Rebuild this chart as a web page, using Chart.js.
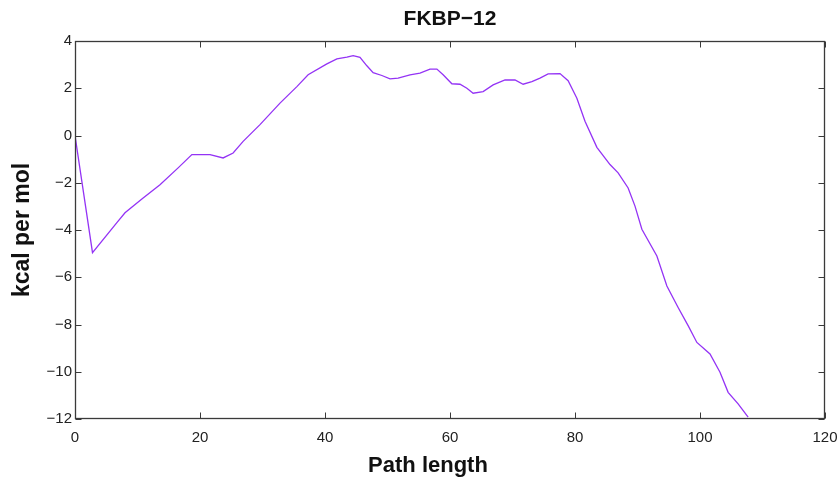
<!DOCTYPE html>
<html>
<head>
<meta charset="utf-8">
<script src="https://cdn.jsdelivr.net/npm/chart.js@4/dist/chart.umd.min.js"></script>
<style>
  html, body { margin: 0; padding: 0; background: #fff; }
  #wrap { width: 839px; height: 479px; }
</style>
</head>
<body>
<div id="wrap"><canvas id="c" width="839" height="479"></canvas></div>
<script>
const chartTitle = "FKBP\u221212";
const xAxisTitle = "Path length";
const yAxisTitle = "kcal per mol";
const xTicks = [0, 20, 40, 60, 80, 100, 120];
const yTicks = [-12, -10, -8, -6, -4, -2, 0, 2, 4];

const pathLength = [0, 2.8, 6.7, 8, 10.8, 13.6, 16.5, 18.7, 20, 21.6, 23.7, 25.3, 26.9, 29.6, 32.8,
  35.5, 37.3, 40.3, 41.9, 43.5, 44.5, 45.6, 46.7, 47.7, 49.1, 50.4, 51.7, 53.6, 55.2, 56.8, 57.9,
  58.9, 60.3, 61.6, 62.7, 63.7, 65.3, 66.9, 68.8, 70.4, 71.7, 73.1, 74.4, 75.7, 77.6, 78.9, 80.3,
  81.6, 83.5, 85.6, 86.9, 88.5, 89.6, 90.7, 93.1, 94.7, 96.5, 98.1, 99.5, 101.6, 103.2, 104.5,
  106.1, 107.7];
const energy = [0, -4.96, -3.69, -3.27, -2.67, -2.08, -1.37, -0.81, -0.81, -0.81, -0.95, -0.74, -0.25,
  0.46, 1.37, 2.07, 2.57, 3.03, 3.24, 3.32, 3.38, 3.31, 2.95, 2.66, 2.54, 2.40, 2.43, 2.57, 2.64,
  2.81, 2.81, 2.57, 2.19, 2.17, 2.0, 1.79, 1.86, 2.14, 2.35, 2.35, 2.17, 2.28, 2.43, 2.61, 2.62,
  2.32, 1.58, 0.6, -0.5, -1.23, -1.58, -2.22, -2.99, -3.97, -5.10, -6.37, -7.28, -8.05, -8.76,
  -9.25, -10.02, -10.87, -11.36, -11.92];

const points = pathLength.map((x, i) => ({ x: x, y: energy[i] }));

const framePlugin = {
  id: 'frame',
  afterDatasetsDraw(chart) {
    const ctx = chart.ctx;
    const a = chart.chartArea;
    const xs = chart.scales.x, ys = chart.scales.y;
    const L = Math.round(a.left) + 0.5, R = Math.round(a.right) - 0.5;
    const T = Math.round(a.top) + 0.5, B = Math.round(a.bottom) - 0.5;
    ctx.save();
    ctx.strokeStyle = '#3a3a3a';
    ctx.lineWidth = 1;
    ctx.beginPath();
    const tl = 6;
    xs.ticks.forEach((t, i) => {
      const px = Math.round(xs.getPixelForTick(i)) + 0.5;
      ctx.moveTo(px, B); ctx.lineTo(px, B - tl);
      ctx.moveTo(px, T); ctx.lineTo(px, T + tl);
    });
    ys.ticks.forEach((t, i) => {
      const py = Math.round(ys.getPixelForTick(i)) + 0.5;
      ctx.moveTo(L, py); ctx.lineTo(L + tl, py);
      ctx.moveTo(R, py); ctx.lineTo(R - tl, py);
    });
    ctx.stroke();
    ctx.lineWidth = 1.3;
    ctx.strokeRect(L, T, R - L, B - T);
    // x-axis title (placed slightly left of the plot centre, as in the original)
    ctx.fillStyle = '#111';
    ctx.font = 'bold 22px "Liberation Sans"';
    ctx.textAlign = 'center';
    ctx.textBaseline = 'middle';
    ctx.fillText(xAxisTitle, (a.left + a.right) / 2 - 22, 466);
    ctx.restore();
  }
};

new Chart(document.getElementById('c'), {
  type: 'line',
  data: {
    datasets: [{
      data: points,
      borderColor: '#9433f5',
      borderWidth: 1.3,
      pointRadius: 0,
      tension: 0,
      fill: false
    }]
  },
  options: {
    responsive: false,
    animation: false,
    layout: { padding: { left: 0, right: 14, top: 0, bottom: 0 } },
    plugins: {
      legend: { display: false },
      tooltip: { enabled: false },
      title: {
        display: true,
        fullSize: false,
        text: chartTitle,
        color: '#111',
        font: { family: 'Liberation Sans', size: 21, weight: 'bold', lineHeight: 1.2 },
        padding: { top: 7, bottom: 8.8 }
      }
    },
    scales: {
      x: {
        type: 'linear',
        min: xTicks[0],
        max: xTicks[xTicks.length - 1],
        afterFit(s) { s.height = 60; s.paddingLeft = 0; s.paddingRight = 0; },
        afterBuildTicks(s) { s.ticks = xTicks.map(v => ({ value: v })); },
        grid: { display: false, drawTicks: false, tickLength: 0 },
        border: { display: false },
        ticks: {
          color: '#222',
          padding: 10,
          maxRotation: 0,
          font: { family: 'Liberation Sans', size: 15 }
        },
        title: { display: false }
      },
      y: {
        type: 'linear',
        min: yTicks[0],
        max: yTicks[yTicks.length - 1],
        afterFit(s) { s.width = 75; s.paddingTop = 0; s.paddingBottom = 0; },
        afterBuildTicks(s) { s.ticks = yTicks.map(v => ({ value: v })); },
        grid: { display: false, drawTicks: false, tickLength: 0 },
        border: { display: false },
        ticks: {
          color: '#222',
          padding: 3,
          font: { family: 'Liberation Sans', size: 15 },
          callback: (v) => String(v).replace('-', '\u2212')
        },
        title: {
          display: true,
          text: yAxisTitle,
          color: '#111',
          font: { family: 'Liberation Sans', size: 23, weight: 'bold', lineHeight: 1.2 },
          padding: { top: 9, bottom: 0 }
        }
      }
    }
  },
  plugins: [framePlugin]
});
</script>
</body>
</html>
